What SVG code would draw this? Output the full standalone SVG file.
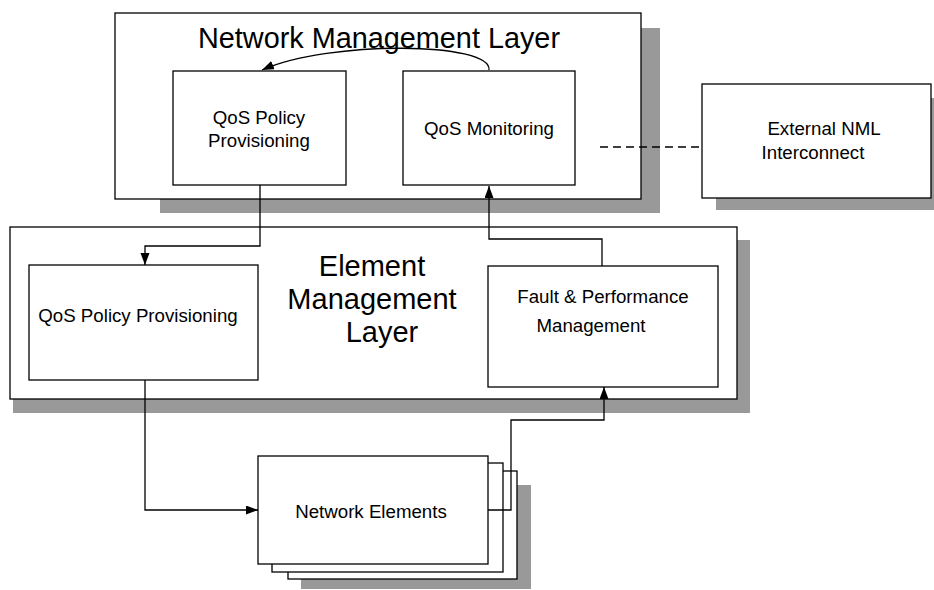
<svg xmlns="http://www.w3.org/2000/svg" width="934" height="590" viewBox="0 0 934 590">
<style>
.box{fill:#fff;stroke:#000;stroke-width:1.3}
.sh{fill:#999}
.t{font-family:"Liberation Sans",Arial,sans-serif;font-size:18.7px;fill:#000;text-anchor:middle}
.big{font-family:"Liberation Sans",Arial,sans-serif;font-size:29px;fill:#000;text-anchor:middle}
.c{fill:none;stroke:#000;stroke-width:1.3}
</style>
<defs>
<marker id="ah" markerUnits="userSpaceOnUse" markerWidth="12" markerHeight="10" refX="12" refY="4.5" orient="auto">
<path d="M0,0 L12,4.5 L0,9 z" fill="#000"/>
</marker>
</defs>
<rect width="934" height="590" fill="#fff"/>
<g id="nml">
<rect class="sh" x="160" y="28" width="500" height="185"/>
<rect class="box" x="115" y="13" width="526" height="186"/>
<text class="big" x="379" y="48" textLength="362" lengthAdjust="spacingAndGlyphs">Network Management Layer</text>
</g>
<g id="nml-qos-policy">
<rect class="box" x="173" y="71" width="173" height="114"/>
<text class="t" x="259" y="124">QoS Policy</text>
<text class="t" x="259" y="147">Provisioning</text>
</g>
<g id="nml-qos-monitoring">
<rect class="box" x="403" y="71" width="172" height="114"/>
<text class="t" x="489" y="135">QoS Monitoring</text>
</g>
<g id="external-nml">
<rect class="sh" x="716" y="98" width="218" height="112"/>
<rect class="box" x="702" y="84" width="229" height="114"/>
<text class="t" x="824" y="135">External NML</text>
<text class="t" x="813" y="159">Interconnect</text>
</g>
<g id="eml">
<rect class="sh" x="13" y="240" width="737" height="173"/>
<rect class="box" x="10" y="227" width="727" height="172"/>
<text class="big" x="372" y="276">Element</text>
<text class="big" x="372" y="309">Management</text>
<text class="big" x="382" y="342">Layer</text>
</g>
<g id="eml-qos-policy">
<rect class="box" x="29" y="265" width="229" height="115"/>
<text class="t" x="138" y="322">QoS Policy Provisioning</text>
</g>
<g id="fault-performance">
<rect class="box" x="488" y="266" width="230" height="121"/>
<text class="t" x="603" y="303">Fault &amp; Performance</text>
<text class="t" x="591" y="332">Management</text>
</g>
<g id="network-elements">
<rect class="sh" x="301" y="485" width="230" height="104"/>
<rect class="box" x="288" y="471" width="229" height="108"/>
<rect class="box" x="272" y="463" width="231" height="109"/>
<rect class="box" x="258" y="456" width="230" height="108"/>
<text class="t" x="371" y="518">Network Elements</text>
</g>
<g id="connectors">
<path class="c" d="M489,70 C492,42 330,40 262,70" marker-end="url(#ah)"/>
<path class="c" d="M600,147 L702,147" stroke-dasharray="8,5"/>
<path class="c" d="M260,185 L260,246 L145,246 L145,265" marker-end="url(#ah)"/>
<path class="c" d="M602,266 L602,239 L489,239 L489,186" marker-end="url(#ah)"/>
<path class="c" d="M145,380 L145,510 L258,510" marker-end="url(#ah)"/>
<path class="c" d="M488,510 L511,510 L511,420 L604,420 L604,387" marker-end="url(#ah)"/>
</g>
</svg>
